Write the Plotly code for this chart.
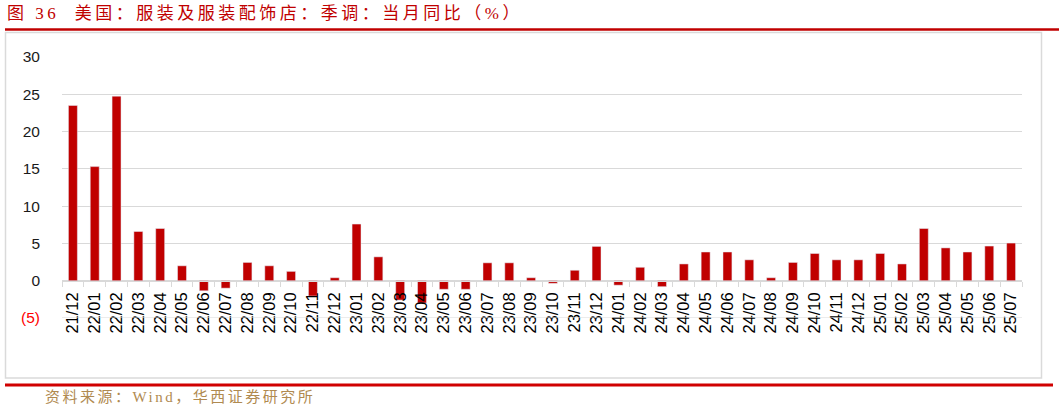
import plotly.graph_objects as go

# months (yy/mm) and seasonally adjusted YoY change, %
months = [
    "21/12",
    "22/01", "22/02", "22/03", "22/04", "22/05", "22/06",
    "22/07", "22/08", "22/09", "22/10", "22/11", "22/12",
    "23/01", "23/02", "23/03", "23/04", "23/05", "23/06",
    "23/07", "23/08", "23/09", "23/10", "23/11", "23/12",
    "24/01", "24/02", "24/03", "24/04", "24/05", "24/06",
    "24/07", "24/08", "24/09", "24/10", "24/11", "24/12",
    "25/01", "25/02", "25/03", "25/04", "25/05", "25/06", "25/07",
]
yoy = [
    23.5,
    15.3, 24.75, 6.6, 7.0, 2.0, -1.35,
    -1.0, 2.45, 2.0, 1.25, -2.05, 0.4,
    7.6, 3.2, -2.6, -3.0, -1.15, -1.15,
    2.4, 2.4, 0.4, -0.35, 1.4, 4.6,
    -0.6, 1.8, -0.8, 2.25, 3.85, 3.85,
    2.8, 0.4, 2.45, 3.65, 2.8, 2.8,
    3.65, 2.25, 7.0, 4.4, 3.85, 4.65, 5.05,
]
y_ticks = [-5, 0, 5, 10, 15, 20, 25, 30]
y_labels = ['<span style="color:#FF0000">(5)</span>', "0", "5", "10", "15", "20", "25", "30"]

title = "图 36  美国：服装及服装配饰店：季调：当月同比（%）"
source = "资料来源：Wind，华西证券研究所"

W, H = 1059, 411
L, R, T, B = 62, 37, 57, 93
pw, ph = W - L - R, H - T - B


def px(x):  # page pixel -> paper x
    return (x - L) / pw


def py(y):  # page pixel -> paper y
    return (H - B - y) / ph


fig = go.Figure(go.Bar(x=months, y=yoy, marker_color="#C00000"))

grid = "#D9D9D9"
fig.update_layout(
    width=W, height=H,
    margin=dict(l=L, r=R, t=T, b=B),
    paper_bgcolor="white", plot_bgcolor="rgba(0,0,0,0)",
    bargap=0.59,
    showlegend=False,
    font=dict(family="Liberation Sans, Arial, sans-serif", size=15, color="#1a1a1a"),
    xaxis=dict(
        type="category",
        anchor="free", position=5 / 35,
        showline=True, linecolor=grid, linewidth=1,
        ticks="outside", ticklen=5, tickcolor=grid, tickson="boundaries",
        tickangle=-90, showgrid=False, ticklabelstandoff=4,
        tickfont=dict(size=16.5, color="#000000"),
    ),
    yaxis=dict(
        range=[y_ticks[0], y_ticks[-1]], tickvals=y_ticks, ticktext=y_labels,
        showgrid=True, gridcolor=grid, gridwidth=1, zeroline=False,
        ticks="", ticklabelstandoff=21,
        tickfont=dict(size=15.5, color="#1a1a1a"),
    ),
)

shapes = [
    # chart frame
    dict(type="rect", xref="paper", yref="paper",
         x0=px(5.5), x1=px(1041.5), y0=py(378), y1=py(32.5),
         line=dict(color="#DADADA", width=1.5), layer="below"),
    # bottom gridline (plotly drops the one on the plot edge)
    dict(type="line", xref="paper", yref="y",
         x0=0, x1=1, y0=y_ticks[0], y1=y_ticks[0],
         line=dict(color=grid, width=1), layer="above"),
    # red rule under title
    dict(type="line", xref="paper", yref="paper",
         x0=px(5), x1=px(1059), y0=py(29.5), y1=py(29.5),
         line=dict(color="#C00000", width=2.5)),
    # red rule above source
    dict(type="line", xref="paper", yref="paper",
         x0=px(5), x1=px(1053), y0=py(385), y1=py(385),
         line=dict(color="#D00000", width=3)),
]
fig.update_layout(shapes=shapes)

fig.add_annotation(
    text='<span style="letter-spacing:3.5px">' + title + "</span>",
    xref="paper", yref="paper", x=px(5), y=py(14),
    xanchor="left", yanchor="middle", showarrow=False,
    font=dict(family="Liberation Serif, Noto Sans CJK SC", size=17, color="#C00000"),
)
fig.add_annotation(
    text='<span style="letter-spacing:2.5px">' + source + "</span>",
    xref="paper", yref="paper", x=px(43), y=py(397),
    xanchor="left", yanchor="middle", showarrow=False,
    font=dict(family="Liberation Serif, Noto Sans CJK SC", size=15, color="#B08A50"),
)

fig.write_html("out.html", config={"displayModeBar": False},
               post_script="document.body.style.margin='0px';")
